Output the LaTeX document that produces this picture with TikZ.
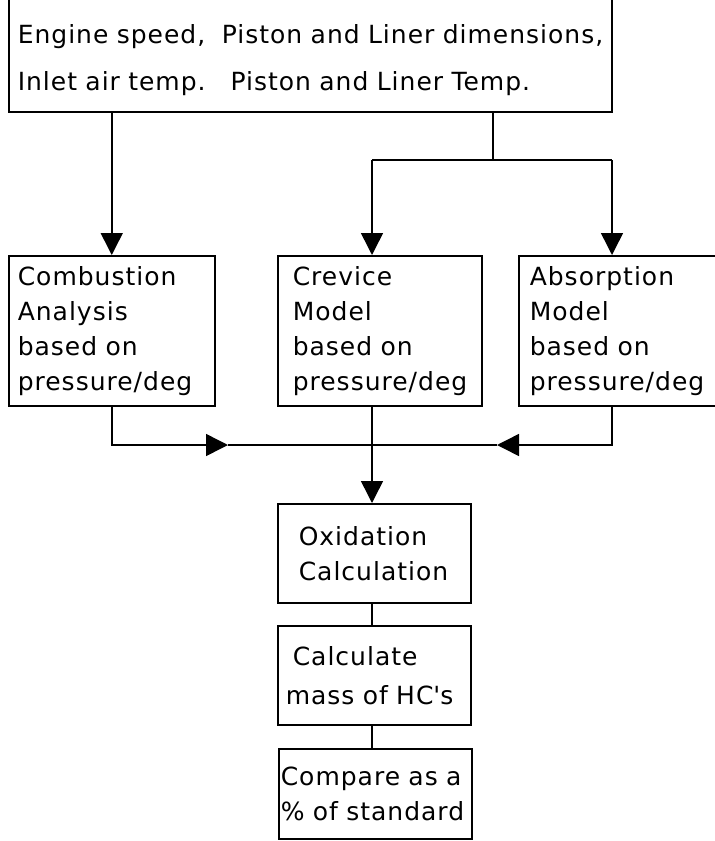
\documentclass[tikz,border=0pt]{standalone}
\usepackage{fontspec}
\setmainfont{DejaVu Sans}[LetterSpace=4]
\usetikzlibrary{arrows.meta}
\begin{document}
\begin{tikzpicture}[x=1pt,y=1pt,
        box/.style={draw,line width=1.5pt,anchor=north west,align=left,inner ysep=0pt,
            font=\fontsize{25}{35}\selectfont},
        link/.style={line width=1.5pt},
        arr/.style={line width=1.5pt,-{Triangle[width=22pt,length=22pt]}}]
        \useasboundingbox (0,0) rectangle (715,-841);

        \node[box,minimum width=603,minimum height=115,text width=585,inner xsep=9] (inputs) at (8,4)
            {\rule{0pt}{31pt}Engine speed,\ \ Piston and Liner dimensions,\\[12pt]Inlet air temp.\ \ \ Piston and Liner Temp.};

        \node[box,minimum width=206,minimum height=150,text width=188,inner xsep=9] (comb) at (8,-255)
            {Combustion\\Analysis\\based on\\pressure/deg};
        \node[box,minimum width=204,minimum height=150,text width=174,inner xsep=15] (crev) at (277,-255)
            {Crevice\\Model\\based on\\pressure/deg};
        \node[box,minimum width=210,minimum height=150,text width=188,inner xsep=11] (absn) at (518,-255)
            {Absorption\\Model\\based on\\pressure/deg};

        \node[box,minimum width=193,minimum height=99,text width=151,inner xsep=21] (oxid) at (277,-503)
            {Oxidation\\Calculation};
        \node[box,minimum width=193,minimum height=99,text width=177,inner xsep=8] (calc) at (277,-625)
            {\hspace{7pt}Calculate\\[4pt]mass of HC\textquotesingle s};
        \node[box,minimum width=193,minimum height=90,text width=189,inner xsep=2] (comp) at (278,-748)
            {\mbox{Compare as a}\\\mbox{\% of standard}};

        \coordinate (brx) at (493,-160);
        \coordinate (cx) at (372,-160);
        \coordinate (ax) at (612,-160);
        \coordinate (jn) at (372,-445);
        \coordinate (jl) at (228,-445);
        \coordinate (jr) at (497,-445);

        \draw[arr] (inputs.south -| comb.north) -- (comb.north);
        \draw[link] (inputs.south -| brx) -- (brx);
        \draw[link] (brx) -- (cx);
        \draw[link] (brx) -- (ax);
        \draw[arr] (cx) -- (cx |- crev.north);
        \draw[arr] (ax) -- (ax |- absn.north);

        \draw[arr] (comb.south) |- (jl);
        \draw[link] (jl) -- (jn);
        \draw[arr] (absn.south -| ax) |- (jr);
        \draw[link] (jr) -- (jn);
        \draw[arr] (crev.south -| jn) -- (jn |- oxid.north);

        \draw[link] (oxid.south -| jn) -- (jn |- calc.north);
        \draw[link] (calc.south -| jn) -- (jn |- comp.north);
    \end{tikzpicture}
\end{document}
